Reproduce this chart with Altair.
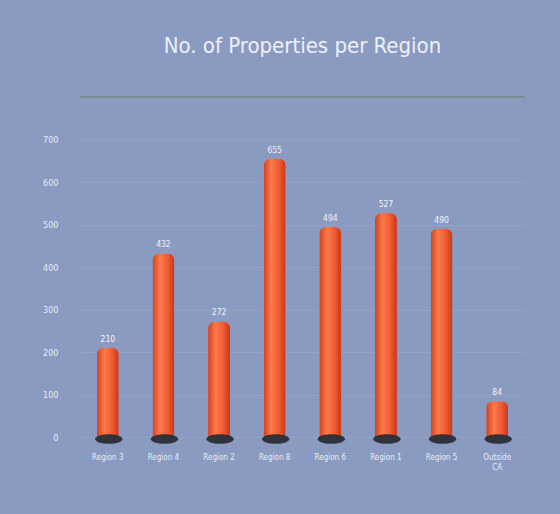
import altair as alt
import pandas as pd

regions = ["Region 3", "Region 4", "Region 2", "Region 8", "Region 6", "Region 1", "Region 5", "Outside CA"]
counts = [210, 432, 272, 655, 494, 527, 490, 84]
y_ticks = [0, 100, 200, 300, 400, 500, 600, 700, 800]

df = pd.DataFrame({"region": regions, "count": counts})

FONT = "DejaVu Sans Condensed, Liberation Sans Narrow, Roboto Condensed, sans-serif"
BG = "#8a9ac1"

yscale = alt.Scale(domain=[0, 800], nice=False)

x = alt.X("region:N", sort=regions, title=None,
          scale=alt.Scale(paddingInner=0.6, paddingOuter=0.3),
          axis=alt.Axis(labelAngle=0, labelColor="#e8ebf6", labelFontSize=8, labelFont=FONT,
                        labelPadding=16, ticks=False, domain=False,
                        labelExpr="datum.label == 'Outside CA' ? ['Outside', 'CA'] : datum.label"))
y = alt.Y("count:Q", title=None, scale=yscale,
          axis=alt.Axis(values=y_ticks, labelColor="#e8ebf6", labelFontSize=9, labelFont=FONT,
                        labelPadding=22, ticks=False, domain=False,
                        labelExpr="datum.value == 800 ? '' : datum.label",
                        gridColor="#9fb0c4", gridOpacity=0.45, gridWidth=1))

base = alt.Chart(df)

bars = base.mark_bar(
    size=22,
    cornerRadiusTopLeft=7, cornerRadiusTopRight=7,
    color=alt.Gradient(
        gradient="linear", x1=0, x2=1, y1=0, y2=0,
        stops=[alt.GradientStop(color="#d4401f", offset=0),
               alt.GradientStop(color="#fb7a4c", offset=0.35),
               alt.GradientStop(color="#f05a32", offset=0.7),
               alt.GradientStop(color="#c3381c", offset=1)])
).encode(x=x, y=y)

shadow = base.mark_point(
    shape="M-1,0 A1,0.35 0 1,0 1,0 A1,0.35 0 1,0 -1,0 Z",
    filled=True, color="#232830", opacity=0.9, size=750, xOffset=1, yOffset=2
).encode(x=x, y=alt.datum(0))

labels = base.mark_text(dy=-9, color="#f2f3fa", fontSize=8.5, font=FONT).encode(
    x=x, y="count:Q", text="count:Q")

top_line = alt.Chart(pd.DataFrame({"v": [800]})).mark_rule(color="#6f8a7a", strokeWidth=1.5).encode(
    y="v:Q")

chart = alt.layer(bars, shadow, labels, top_line).properties(
    width=445, height=340,
    title=alt.TitleParams("No. of Properties per Region", color="#eef0f8", fontSize=22,
                          font=FONT, fontWeight="normal", offset=38, anchor="middle"),
    padding={"left": 80, "top": 97, "right": 35, "bottom": 77},
    background=BG,
    autosize=alt.AutoSizeParams(type="none"),
).configure_view(stroke=None)

chart.save("out.html", embed_options={"renderer": "svg", "actions": False})
